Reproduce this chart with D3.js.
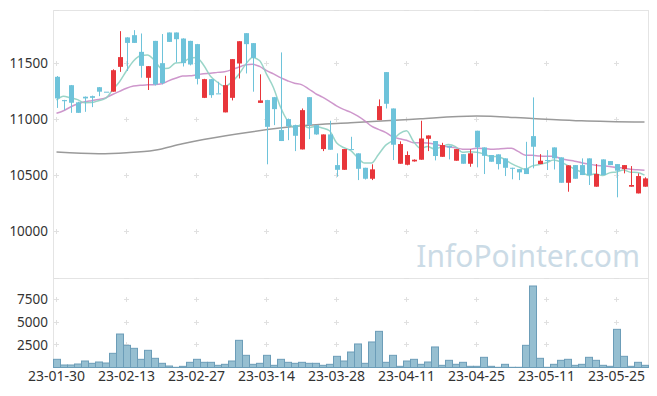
<!DOCTYPE html>
<html>
<head>
<meta charset="utf-8">
<script src="https://cdn.jsdelivr.net/npm/d3@7"></script>
<style>
    html, body { margin: 0; padding: 0; background: #fff; }
    #chart { width: 657px; height: 396px; }
    text { font-family: "Noto Sans", "Open Sans", sans-serif; }
</style>
</head>
<body>
<div id="chart"></div>
<script>
// Trading days (yy-mm-dd)
const dates = [
    '23-01-30','23-01-31','23-02-01','23-02-02','23-02-03','23-02-06','23-02-07','23-02-08','23-02-09','23-02-10',
    '23-02-13','23-02-14','23-02-15','23-02-16','23-02-17','23-02-20','23-02-21','23-02-22','23-02-23','23-02-24',
    '23-02-27','23-02-28','23-03-02','23-03-03','23-03-06','23-03-07','23-03-08','23-03-09','23-03-10','23-03-13',
    '23-03-14','23-03-15','23-03-16','23-03-17','23-03-20','23-03-21','23-03-22','23-03-23','23-03-24','23-03-27',
    '23-03-28','23-03-29','23-03-30','23-03-31','23-04-03','23-04-04','23-04-05','23-04-06','23-04-07','23-04-10',
    '23-04-11','23-04-12','23-04-13','23-04-14','23-04-17','23-04-18','23-04-19','23-04-20','23-04-21','23-04-24',
    '23-04-25','23-04-26','23-04-27','23-04-28','23-05-02','23-05-03','23-05-04','23-05-08','23-05-09','23-05-10',
    '23-05-11','23-05-12','23-05-15','23-05-16','23-05-17','23-05-18','23-05-19','23-05-22','23-05-23','23-05-24',
    '23-05-25','23-05-26','23-05-30','23-05-31','23-06-01'
];

const open = [
    11378,11170,11303,11150,11200,11205,11285,11245,11245,11467,
    11730,11750,11601,11369,11699,11500,11774,11774,11720,11699,
    11670,11190,11357,11230,11060,11190,11497,11768,11679,11145,
    11170,11196,10902,11000,10946,10729,11196,10946,10732,10863,
    10589,10547,10732,10694,10565,10467,10991,11420,11095,10601,
    10592,10622,10637,10824,10804,10663,10762,10628,10687,10601,
    10896,10747,10679,10685,10649,10565,10553,10560,10848,10598,
    10634,10747,10658,10431,10589,10589,10649,10396,10640,10625,
    10598,10553,10396,10336,10396
];
const high = [
    11385,11172,11305,11155,11202,11210,11287,11245,11445,11786,
    11732,11795,11765,11473,11699,11760,11774,11774,11722,11700,
    11672,11360,11357,11333,11387,11536,11696,11768,11679,11400,
    11172,11198,11596,11005,10950,11095,11196,10946,10863,10985,
    10694,10732,10842,10694,10565,10596,11176,11420,11095,10801,
    10712,10640,10985,10854,10804,10788,10762,10732,10687,10730,
    10896,10747,10679,10685,10649,10565,10553,10797,11194,10687,
    10723,10747,10658,10587,10589,10649,10649,10598,10640,10625,
    10598,10589,10580,10515,10480
];
const low = [
    11100,11080,11056,11056,11065,11107,11205,11245,11245,11422,
    11430,11680,11370,11260,11300,11310,11690,11506,11470,11480,
    11310,11188,11190,11230,11060,11167,11363,11408,11245,11145,
    10596,10946,10804,10812,10714,10729,10821,10860,10714,10726,
    10485,10547,10732,10455,10460,10455,10991,11095,10634,10601,
    10587,10620,10637,10714,10631,10663,10640,10628,10601,10574,
    10569,10509,10619,10550,10491,10462,10455,10509,10560,10598,
    10545,10550,10431,10351,10467,10500,10411,10396,10500,10589,
    10301,10515,10396,10336,10396
];
const close = [
    11185,11160,11146,11056,11185,11190,11245,11245,11437,11554,
    11681,11681,11476,11473,11310,11322,11690,11714,11500,11488,
    11360,11357,11214,11230,11303,11536,11696,11670,11547,11167,
    10931,11089,10804,10935,10851,11080,10946,10863,10863,10726,
    10547,10732,10732,10556,10467,10551,11116,11137,10771,10777,
    10679,10637,10827,10854,10670,10768,10747,10732,10601,10694,
    10747,10672,10619,10598,10565,10560,10524,10509,10753,10628,
    10634,10649,10431,10587,10467,10500,10500,10509,10500,10589,
    10539,10589,10411,10491,10470
];
const volume = [
    900,275,275,385,715,460,605,495,1560,3685,
    2440,2110,900,1890,1010,460,165,20,128,570,
    900,570,570,240,350,715,2990,1340,350,460,
    1340,240,900,570,460,570,460,460,240,350,
    1230,715,1705,2590,460,2810,3980,570,1340,130,
    715,900,350,605,2260,240,790,350,570,130,
    130,1120,130,20,350,20,20,2440,8970,1010,
    20,350,790,900,240,350,1120,790,240,130,
    4200,1230,130,570,240
];

// Moving-average values at the left edge (they depend on days before the window)
const ma5Head = [11170, 11205, 11190, 11174];
const ma20Head = [
    11052,11075,11108,11135,11155,11165,11175,11190,11220,11248,
    11276,11295,11303,11306,11308,11315,11342,11365,11385
];
// 60-day average read at these day indexes
const ma60Index = [0, 6, 10, 14, 18, 21, 28, 35, 42, 49, 52, 60, 68, 75, 84];
const ma60Value = [10705, 10690, 10699, 10722, 10780, 10818, 10888, 10940, 10967, 10991, 11003, 11027, 11006, 10985, 10973];

const priceTicks = [10000, 10500, 11000, 11500];
const volumeTicks = [2500, 5000, 7500];
const dateTickIndex = [0, 10, 20, 30, 40, 50, 60, 70, 80];

const movingAvg = (n, head) => close.map((c, i) => {
    if (i < n - 1) return head[i];
    return d3.mean(close.slice(i - n + 1, i + 1));
});
const ma5 = movingAvg(5, ma5Head);
const ma20 = movingAvg(20, ma20Head);

// Layout
const W = 657, H = 396;
const left = 53, right = 648;
const priceTop = 10, priceBottom = 278;
const volTop = 278, volBottom = 367.5;

const svg = d3.select('#chart')
    .append('svg')
    .attr('width', W)
    .attr('height', H);

const idx = d3.range(dates.length);

const x = d3.scaleBand()
    .domain(idx)
    .range([left, right])
    .padding(0);
const cx = i => x(i) + x.bandwidth() / 2;

const y = d3.scaleLinear()
    .domain([9580, 11975])
    .range([priceBottom, priceTop]);

const yVol = d3.scaleLinear()
    .domain([0, 9850])
    .range([volBottom, volTop]);

const gridColor = '#e4e4e4';

// Frame lines
const frame = svg.append('g').attr('class', 'frame')
    .attr('stroke', gridColor)
    .attr('stroke-width', 1)
    .attr('shape-rendering', 'crispEdges');
frame.append('line').attr('x1', left).attr('x2', right).attr('y1', priceTop).attr('y2', priceTop);
frame.append('line').attr('x1', left).attr('x2', right).attr('y1', volTop).attr('y2', volTop);
frame.append('line').attr('x1', left).attr('x2', right).attr('y1', volBottom).attr('y2', volBottom);
frame.append('line').attr('x1', left).attr('x2', left).attr('y1', priceTop).attr('y2', volBottom);
frame.append('line').attr('x1', right).attr('x2', right).attr('y1', priceTop).attr('y2', volBottom);

// Little "+" markers at grid intersections
const crossY = priceTicks.map(y).concat(volumeTicks.map(yVol), [priceTop, volTop]);
const crosses = [];
dateTickIndex.forEach(i => crossY.forEach(cy => crosses.push([cx(i), cy])));
const cross = svg.append('g').attr('class', 'crosses')
    .attr('stroke', '#e0e0e0')
    .attr('stroke-width', 1)
    .attr('shape-rendering', 'crispEdges');
cross.selectAll('.h').data(crosses).enter().append('line')
    .attr('x1', d => d[0] - 2.5).attr('x2', d => d[0] + 2.5)
    .attr('y1', d => d[1]).attr('y2', d => d[1]);
cross.selectAll('.v').data(crosses.filter(d => d[1] !== priceTop && d[1] !== volTop)).enter().append('line')
    .attr('x1', d => d[0]).attr('x2', d => d[0])
    .attr('y1', d => d[1] - 2.5).attr('y2', d => d[1] + 2.5);

// Watermark
svg.append('text')
    .attr('x', 640)
    .attr('y', 267)
    .attr('text-anchor', 'end')
    .style('font-size', '30px')
    .attr('fill', '#cbdbe6')
    .text('InfoPointer.com');

// Moving averages
const lineGen = data => d3.line()
    .x(d => cx(d[0]))
    .y(d => y(d[1]))
    .curve(d3.curveMonotoneX)(data);

svg.append('path')
    .attr('d', lineGen(ma60Index.map((i, k) => [i, ma60Value[k]])))
    .attr('fill', 'none')
    .attr('stroke', '#9a9a9a')
    .attr('stroke-width', 1.5);

svg.append('path')
    .attr('d', lineGen(ma20.map((v, i) => [i, v])))
    .attr('fill', 'none')
    .attr('stroke', '#c98cc6')
    .attr('stroke-opacity', 0.9)
    .attr('stroke-width', 1.5);

svg.append('path')
    .attr('d', lineGen(ma5.map((v, i) => [i, v])))
    .attr('fill', 'none')
    .attr('stroke', '#8fd0c2')
    .attr('stroke-opacity', 0.9)
    .attr('stroke-width', 1.5);

// Candles
const upColor = '#e8363b';
const downColor = '#6ec3da';
const candleColor = i => close[i] > open[i] ? upColor : downColor;

const candles = svg.append('g').attr('class', 'candles');
candles.selectAll('.wick')
    .data(idx)
    .enter()
    .append('line')
    .attr('class', 'wick')
    .attr('x1', i => Math.round(cx(i)) + 0.5)
    .attr('x2', i => Math.round(cx(i)) + 0.5)
    .attr('y1', i => y(high[i]))
    .attr('y2', i => y(low[i]))
    .attr('stroke', candleColor)
    .attr('stroke-width', 1);

candles.selectAll('.body')
    .data(idx)
    .enter()
    .append('rect')
    .attr('class', 'body')
    .attr('x', i => Math.round(cx(i)) - 2)
    .attr('width', 5)
    .attr('y', i => y(Math.max(open[i], close[i])))
    .attr('height', i => Math.max(1, Math.abs(y(open[i]) - y(close[i]))))
    .attr('fill', candleColor);

// Volume bars
svg.append('g').attr('class', 'volume')
    .selectAll('rect')
    .data(idx)
    .enter()
    .append('rect')
    .attr('x', i => x(i) + 0.5)
    .attr('width', x.bandwidth())
    .attr('y', i => yVol(volume[i]))
    .attr('height', i => volBottom - yVol(volume[i]))
    .attr('fill', '#96bfd1')
    .attr('stroke', '#6c9db8')
    .attr('stroke-width', 1);

// Axes
const styleAxis = size => g => {
    g.select('.domain').remove();
    g.selectAll('text')
        .style('font-size', size)
        .attr('fill', '#333');
};

svg.append('g')
    .attr('transform', `translate(${left - 5},0)`)
    .call(d3.axisLeft(y).tickValues(priceTicks).tickSize(0).tickPadding(0).tickFormat(d3.format('d')))
    .call(styleAxis('13.5px'));

svg.append('g')
    .attr('transform', `translate(${left - 5},0)`)
    .call(d3.axisLeft(yVol).tickValues(volumeTicks).tickSize(0).tickPadding(0).tickFormat(d3.format('d')))
    .call(styleAxis('13.5px'));

svg.append('g')
    .attr('transform', `translate(0,${volBottom})`)
    .call(d3.axisBottom(x).tickValues(dateTickIndex).tickSize(0).tickPadding(4).tickFormat(i => dates[i]))
    .call(styleAxis('14px'));
</script>
</body>
</html>
